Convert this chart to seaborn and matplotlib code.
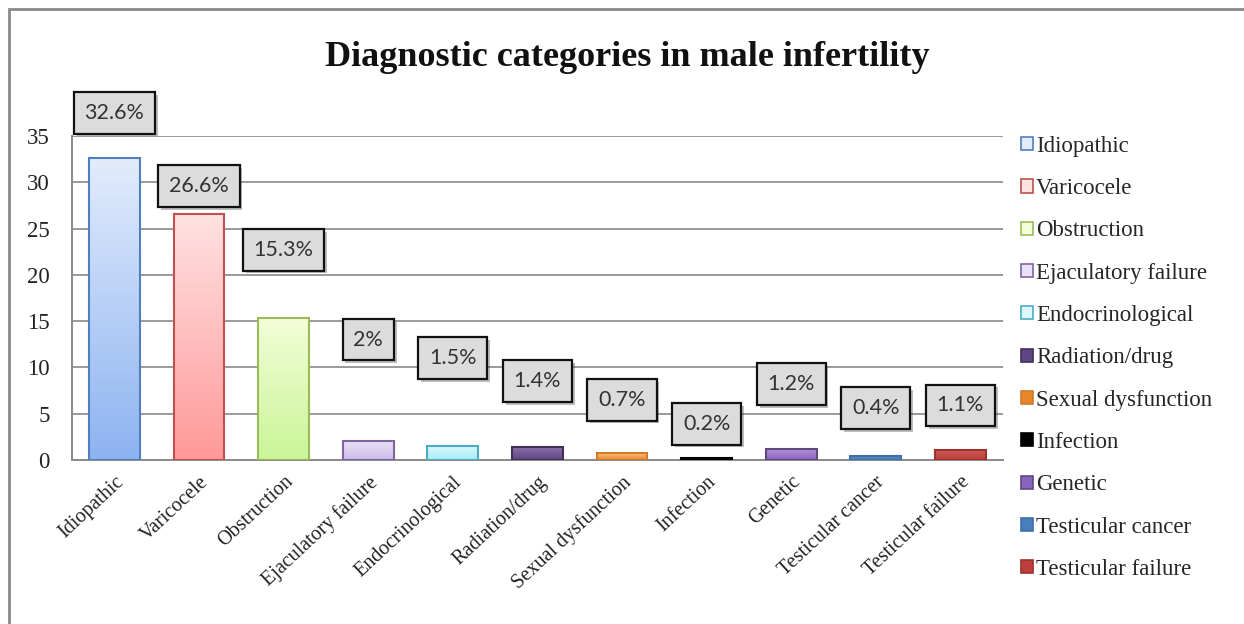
import numpy as np
import pandas as pd
import matplotlib
matplotlib.use("Agg")
import matplotlib.pyplot as plt
import matplotlib.patheffects as pe
from matplotlib.patches import Patch, Rectangle
from matplotlib.colors import LinearSegmentedColormap
import seaborn as sns

categories = ["Idiopathic", "Varicocele", "Obstruction", "Ejaculatory failure",
              "Endocrinological", "Radiation/drug", "Sexual dysfunction",
              "Infection", "Genetic", "Testicular cancer", "Testicular failure"]
percent = [32.6, 26.6, 15.3, 2, 1.5, 1.4, 0.7, 0.2, 1.2, 0.4, 1.1]
value_labels = ["32.6%", "26.6%", "15.3%", "2%", "1.5%", "1.4%", "0.7%",
                "0.2%", "1.2%", "0.4%", "1.1%"]

# bar fills: (top colour, bottom colour, edge colour)
fill_top = ["#e2ecfc", "#ffe2e2", "#f3fdd8", "#e9e1f6", "#dcf8fc", "#8a70ad",
            "#fbbf7e", "#303030", "#b494dc", "#5a8cc8", "#cd5c58"]
fill_bottom = ["#8db3f1", "#ff9999", "#c9f597", "#cbbbe9", "#a6ecf7", "#5e4585",
               "#e7852d", "#000000", "#8a63bf", "#4a7dbb", "#bd3e3a"]
edge = ["#4f7fbf", "#c0504d", "#9bbb59", "#8064a2", "#4bacc6", "#3f3151",
        "#d07a2a", "#000000", "#60497a", "#3f6ea8", "#a0302c"]

# label box centres (data y) for the value callouts
label_y = [37.5, 29.6, 22.7, 13.0, 11.0, 8.5, 6.5, 3.9, 8.2, 5.6, 5.9]

df = pd.DataFrame({"category": categories, "percent": percent})

sns.set_theme(style="white")
plt.rcParams["font.family"] = ["Liberation Serif", "DejaVu Serif"]

fig = plt.figure(figsize=(12.44, 6.24), dpi=100)
ax = fig.add_axes([0.058, 0.263, 0.748, 0.519])

sns.barplot(data=df, x="category", y="percent", hue="category",
            palette=fill_bottom, width=0.6, legend=False, ax=ax,
            saturation=1, zorder=3)

ax.set_yticks(range(0, 36, 5))
ax.yaxis.grid(True, color="#9a9a9a", linewidth=1.4, zorder=0)
ax.set_axisbelow(True)
for s in ["top", "right"]:
    ax.spines[s].set_visible(False)
for s in ["left", "bottom"]:
    ax.spines[s].set_color("#8a8a8a")
    ax.spines[s].set_linewidth(1.4)
ax.set_xlabel("")
ax.set_ylabel("")
ax.tick_params(axis="y", labelsize=16.5, colors="#222222", length=0, pad=16)
ax.tick_params(axis="x", length=0, pad=9)
ax.set_xticks(range(len(categories)))
ax.set_xticklabels(categories, rotation=43, ha="right", rotation_mode="anchor",
                   fontsize=14.5, color="#222222")

# vertical gradient fill for each bar
for i, patch in enumerate(ax.patches[:len(categories)]):
    x0, y0 = patch.get_x(), patch.get_y()
    w, h = patch.get_width(), patch.get_height()
    cmap = LinearSegmentedColormap.from_list("g", [fill_bottom[i], fill_top[i]])
    grad = np.linspace(0, 1, 256).reshape(-1, 1)
    im = ax.imshow(grad, cmap=cmap, aspect="auto", origin="lower",
                   extent=[x0, x0 + w, y0, y0 + h], zorder=3.1)
    im.set_clip_path(patch)
    patch.set_facecolor("none")
    patch.set_edgecolor(edge[i])
    patch.set_linewidth(1.5)
    patch.set_zorder(3.2)
ax.set_xlim(-0.5, len(categories) - 0.5)
ax.set_ylim(0, 35)
ax.set_aspect("auto")

# value callouts
for i, (txt, ly) in enumerate(zip(value_labels, label_y)):
    t = ax.text(i, ly, txt, ha="center", va="center", fontsize=15.5,
                family=["Lato", "DejaVu Sans"], color="#333333", zorder=6,
                clip_on=False,
                bbox=dict(boxstyle="square,pad=0.5", facecolor="#dcdcdc",
                          edgecolor="#111111", linewidth=1.6))
    t.get_bbox_patch().set_path_effects(
        [pe.SimplePatchShadow(offset=(2, -2), alpha=0.35), pe.Normal()])

# legend
handles = [Patch(facecolor=fill_bottom[i] if i >= 5 else fill_top[i],
                 edgecolor=edge[i], linewidth=1.2, label=c)
           for i, c in enumerate(categories)]
leg = fig.legend(handles=handles, loc="upper left",
                 bbox_to_anchor=(0.8135, 0.797), frameon=False,
                 fontsize=16.5, handlelength=0.5, handleheight=0.5,
                 handletextpad=0.15, labelspacing=0.93, borderaxespad=0)

fig.suptitle("Diagnostic categories in male infertility", x=0.504, y=0.935,
             fontsize=26, fontweight="bold", color="#111111")

# outer frame
fig.patches.append(Rectangle((0.007, -0.05), 1.2, 1.036, transform=fig.transFigure,
                             fill=False, edgecolor="#8a8a8a", linewidth=2))

fig.savefig("out.png", dpi=100)
